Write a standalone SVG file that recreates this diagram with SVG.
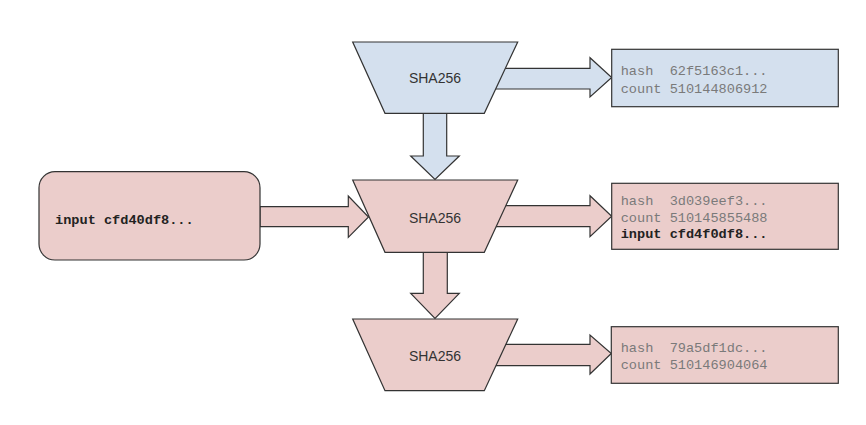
<svg xmlns="http://www.w3.org/2000/svg" width="866" height="425" viewBox="0 0 866 425">
<style>
.blue{fill:#d4e0ee;stroke:#333;stroke-width:1.2;stroke-linejoin:miter}
.pink{fill:#ebcdcb;stroke:#333;stroke-width:1.2;stroke-linejoin:miter}
.lbl{font-family:"Liberation Sans",Arial,sans-serif;font-size:14px;fill:#333;text-anchor:middle}
.mono{font-family:"Liberation Mono","Courier New",monospace;font-size:13.6px;fill:#7a7a7a;white-space:pre}
.bold{font-family:"Liberation Mono","Courier New",monospace;font-size:13.6px;font-weight:bold;fill:#222;white-space:pre}
</style>
<rect width="866" height="425" fill="#fff"/>
<g id="connectors">
<path class="blue" d="M485,68.3 H590 V57.7 L611.7,77.5 L590,97 V89 H485 Z"/>
<path class="blue" d="M423.3,110 V156 H410.7 L435,179.5 L459.3,156 H446.7 V110 Z"/>
<path class="pink" d="M260,206.7 H348.3 V196 L368.5,217 L348.3,237.3 V226.7 H260 Z"/>
<path class="pink" d="M485,205.7 H590 V195.7 L611.7,216.2 L590,236.7 V226.7 H485 Z"/>
<path class="pink" d="M423.3,249 V293.3 H410.7 L435,318.5 L459.3,293.3 H447.3 V249 Z"/>
<path class="pink" d="M485,344.3 H590 V335 L611.3,353.5 L590,374 V365.7 H485 Z"/>
</g>
<g id="sha1">
<polygon class="blue" points="352.7,42 517.7,42 484.3,113.3 385,113.3"/>
<text class="lbl" x="435" y="83">SHA256</text>
</g>
<g id="out1">
<rect class="blue" x="611.7" y="49.3" width="226.6" height="57.4"/>
<text class="mono" x="620.7" y="75">hash  62f5163c1...</text>
<text class="mono" x="620.7" y="93.3">count 510144806912</text>
</g>
<g id="input">
<rect class="pink" x="39" y="171.7" width="221" height="88.3" rx="16" ry="16"/>
<text class="bold" x="55" y="224">input cfd40df8...</text>
</g>
<g id="sha2">
<polygon class="pink" points="352.7,180 517.7,180 484.3,252.3 385,252.3"/>
<text class="lbl" x="435" y="223">SHA256</text>
</g>
<g id="out2">
<rect class="pink" x="611.7" y="183.3" width="226.6" height="66"/>
<text class="mono" x="620.7" y="205">hash  3d039eef3...</text>
<text class="mono" x="620.7" y="221.7">count 510145855488</text>
<text class="bold" x="620.7" y="238.3">input cfd4f0df8...</text>
</g>
<g id="sha3">
<polygon class="pink" points="352.7,319 517.7,319 484.3,390.7 385,390.7"/>
<text class="lbl" x="435" y="361">SHA256</text>
</g>
<g id="out3">
<rect class="pink" x="611.3" y="326.7" width="227" height="56.6"/>
<text class="mono" x="620.7" y="352.3">hash  79a5df1dc...</text>
<text class="mono" x="620.7" y="368.5">count 510146904064</text>
</g>
</svg>
